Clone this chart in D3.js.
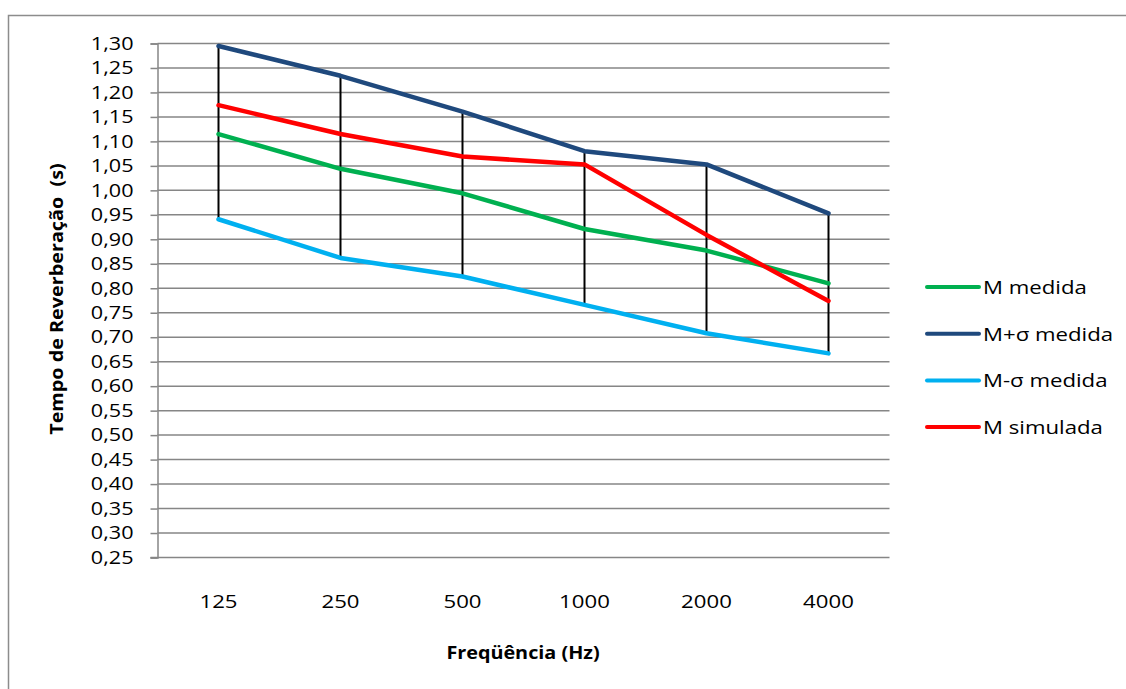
<!DOCTYPE html>
<html>
<head>
<meta charset="utf-8">
<script src="https://cdn.jsdelivr.net/npm/d3@7"></script>
<style>
  html, body { margin: 0; padding: 0; background: #fff; }
  svg { display: block; }
  text { font-family: "Open Sans", "DejaVu Sans", sans-serif; fill: #000; }
</style>
</head>
<body>
<svg id="chart" width="1126" height="689"></svg>
<script>
// Frequency bands (Hz)
const categories = ["125", "250", "500", "1000", "2000", "4000"];

// Reverberation time (s) per band
const mMedida   = [1.115, 1.044, 0.994, 0.921, 0.877, 0.810];
const mPlusSig  = [1.295, 1.234, 1.161, 1.080, 1.053, 0.953];
const mMinusSig = [0.941, 0.862, 0.824, 0.766, 0.708, 0.667];
const mSimulada = [1.174, 1.115, 1.069, 1.053, 0.909, 0.774];

const seriesNames  = ["M medida", "M+σ medida", "M-σ medida", "M simulada"];
const seriesColors = ["#00b050", "#1f497d", "#00b0f0", "#ff0000"];
const seriesValues = [mMedida, mPlusSig, mMinusSig, mSimulada];

const yTicks = d3.range(0.25, 1.3001, 0.05).map(v => +v.toFixed(2));

const svg = d3.select("#chart");

// Widen text horizontally around its anchor point
function stretch(sel, sx) {
  sel.each(function () {
    const t = d3.select(this);
    const tx = +t.attr("x") || 0, ty = +t.attr("y") || 0;
    t.attr("x", 0).attr("y", 0)
     .attr("transform", `translate(${tx},${ty}) scale(${sx},1)`);
  });
}

// Outer frame
svg.append("rect")
  .attr("x", 8.5).attr("y", 15.5)
  .attr("width", 1140).attr("height", 700)
  .attr("fill", "none").attr("stroke", "#8c8c8c").attr("stroke-width", 1.5);

const plot = { left: 157.5, right: 889.5, top: 43.5, bottom: 557.5 };

const x = d3.scaleBand().domain(categories).range([plot.left, plot.right]);
const y = d3.scaleLinear().domain([0.25, 1.30]).range([plot.bottom, plot.top]);
const fmt = v => v.toFixed(2).replace(".", ",");

// Horizontal gridlines
svg.append("g")
  .selectAll("line")
  .data(yTicks.filter(v => v > 0.25))
  .join("line")
  .attr("x1", plot.left).attr("x2", plot.right)
  .attr("y1", d => y(d)).attr("y2", d => y(d))
  .attr("stroke", "#868686").attr("stroke-width", 1.5);

// Y axis
const yAxis = svg.append("g")
  .attr("transform", `translate(${plot.left},0)`)
  .call(d3.axisLeft(y).tickValues(yTicks).tickFormat(fmt).tickSize(7).tickPadding(17));
yAxis.select(".domain").attr("stroke", "#868686").attr("stroke-width", 1.5);
yAxis.selectAll(".tick line").attr("stroke", "#868686").attr("stroke-width", 1.5);
yAxis.selectAll(".tick text")
  .style("font-family", "'Open Sans', sans-serif")
  .style("font-size", "18px").attr("fill", "#000")
  .call(stretch, 1.2);

// X axis line
svg.append("line")
  .attr("x1", plot.left - 7).attr("x2", plot.right)
  .attr("y1", plot.bottom).attr("y2", plot.bottom)
  .attr("stroke", "#868686").attr("stroke-width", 1.5);

// X labels
svg.append("g")
  .selectAll("text")
  .data(categories)
  .join("text")
  .attr("x", d => x(d) + x.bandwidth() / 2)
  .attr("y", 608)
  .attr("text-anchor", "middle")
  .style("font-size", "18.5px")
  .text(d => d)
  .call(stretch, 1.2);

// High-low lines
svg.append("g")
  .selectAll("line")
  .data(categories)
  .join("line")
  .attr("x1", d => x(d) + x.bandwidth() / 2)
  .attr("x2", d => x(d) + x.bandwidth() / 2)
  .attr("y1", (d, i) => y(d3.max(seriesValues, s => s[i])))
  .attr("y2", (d, i) => y(d3.min(seriesValues, s => s[i])))
  .attr("stroke", "#000").attr("stroke-width", 2);

// Series lines
const line = d3.line()
  .x((d, i) => x(categories[i]) + x.bandwidth() / 2)
  .y(d => y(d));

svg.append("g")
  .selectAll("path")
  .data(seriesValues)
  .join("path")
  .attr("d", d => line(d))
  .attr("fill", "none")
  .attr("stroke", (d, i) => seriesColors[i])
  .attr("stroke-width", 4.5)
  .attr("stroke-linejoin", "round")
  .attr("stroke-linecap", "round");

// Axis titles
svg.append("text")
  .attr("transform", "translate(63,299) rotate(-90) scale(1.1,1)")
  .attr("text-anchor", "middle")
  .style("font-size", "18px").style("font-weight", "bold")
  .style("white-space", "pre")
  .text("Tempo de Reverberação  (s)");

svg.append("text")
  .attr("x", 523).attr("y", 659)
  .attr("text-anchor", "middle")
  .style("font-size", "18px").style("font-weight", "bold")
  .text("Freqüência (Hz)")
  .call(stretch, 1.1);

// Legend
const legend = svg.append("g")
  .selectAll("g")
  .data(seriesNames)
  .join("g")
  .attr("transform", (d, i) => `translate(927,${287 + i * 46.7})`);
legend.append("line")
  .attr("x1", 0).attr("x2", 52)
  .attr("stroke", (d, i) => seriesColors[i])
  .attr("stroke-width", 4).attr("stroke-linecap", "round");
legend.append("text")
  .attr("x", 56).attr("y", 7)
  .style("font-size", "18.5px")
  .text(d => d)
  .call(stretch, 1.2);
</script>
</body>
</html>
